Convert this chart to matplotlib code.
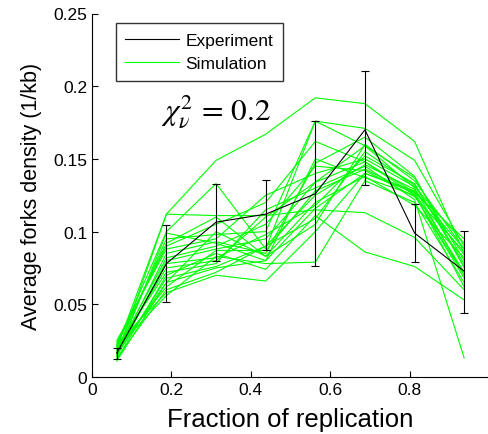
import numpy as np
import matplotlib
matplotlib.use("Agg")
import matplotlib.pyplot as plt

plt.rcParams['font.family'] = ['Liberation Sans', 'DejaVu Sans']
plt.rcParams['mathtext.fontset'] = 'stix'

# Bin centres (fraction of replication)
x = [0.0625, 0.1875, 0.3125, 0.4375, 0.5625, 0.6875, 0.8125, 0.9375]

# Experiment
exp_y = [0.0165, 0.078, 0.1065, 0.112, 0.126, 0.170, 0.099, 0.0728]
exp_lo = [0.0124, 0.0514, 0.0799, 0.0875, 0.0762, 0.1318, 0.079, 0.0441]
exp_hi = [0.0198, 0.1045, 0.1327, 0.1355, 0.1758, 0.2105, 0.1187, 0.1006]

# Simulations
sim = [
    [0.020, 0.112, 0.149, 0.167, 0.192, 0.188, 0.162, 0.085],
    [0.015, 0.112, 0.111, 0.111, 0.115, 0.113, 0.096, 0.060],
    [0.012, 0.070, 0.085, 0.074, 0.111, 0.086, 0.076, 0.053],
    [0.022, 0.100, 0.133, 0.088, 0.176, 0.171, 0.149, 0.090],
    [0.018, 0.095, 0.098, 0.100, 0.176, 0.159, 0.137, 0.080],
    [0.024, 0.090, 0.105, 0.120, 0.162, 0.148, 0.127, 0.095],
    [0.016, 0.085, 0.093, 0.085, 0.147, 0.165, 0.138, 0.075],
    [0.014, 0.080, 0.088, 0.095, 0.134, 0.159, 0.130, 0.070],
    [0.019, 0.075, 0.080, 0.110, 0.134, 0.148, 0.125, 0.068],
    [0.021, 0.072, 0.078, 0.115, 0.130, 0.145, 0.122, 0.013],
    [0.017, 0.065, 0.075, 0.080, 0.116, 0.140, 0.128, 0.088],
    [0.013, 0.060, 0.072, 0.090, 0.109, 0.155, 0.132, 0.078],
    [0.023, 0.058, 0.070, 0.066, 0.100, 0.140, 0.127, 0.072],
    [0.020, 0.056, 0.083, 0.078, 0.079, 0.135, 0.120, 0.065],
    [0.011, 0.065, 0.100, 0.083, 0.120, 0.138, 0.118, 0.082],
    [0.025, 0.088, 0.095, 0.125, 0.140, 0.150, 0.131, 0.092],
    [0.018, 0.082, 0.090, 0.105, 0.145, 0.142, 0.124, 0.086],
    [0.015, 0.068, 0.076, 0.090, 0.125, 0.146, 0.129, 0.084],
    [0.022, 0.092, 0.110, 0.083, 0.105, 0.160, 0.135, 0.088],
    [0.016, 0.078, 0.082, 0.098, 0.118, 0.152, 0.133, 0.076],
    [0.020, 0.062, 0.087, 0.087, 0.128, 0.143, 0.126, 0.062],
    [0.014, 0.099, 0.092, 0.080, 0.150, 0.137, 0.125, 0.070],
]

xticks = [0, 0.2, 0.4, 0.6, 0.8]
xticklabels = ['0', '0.2', '0.4', '0.6', '0.8']
yticks = [0, 0.05, 0.1, 0.15, 0.2, 0.25]
yticklabels = ['0', '0.05', '0.1', '0.15', '0.2', '0.25']

fig = plt.figure(figsize=(4.89, 4.35), dpi=100)
ax = fig.add_axes([92/489, 57/435, 1 - 92/489, (378 - 14.5)/435])

green = '#00ff00'
for i, s in enumerate(sim):
    ax.plot(x, s, color=green, lw=0.8, label='Simulation' if i == 0 else None, zorder=2)

exp_y_a = np.array(exp_y)
yerr = [exp_y_a - np.array(exp_lo), np.array(exp_hi) - exp_y_a]
ax.errorbar(x, exp_y, yerr=yerr, color='black', lw=0.8, elinewidth=0.8,
            capsize=3, capthick=0.8, zorder=3)
ax.plot([], [], color='black', lw=0.8, label='Experiment')

h, l = ax.get_legend_handles_labels()
order = [l.index('Experiment'), l.index('Simulation')]
leg = ax.legend([h[i] for i in order], [l[i] for i in order],
                loc='upper left', bbox_to_anchor=(0.06, 0.974), borderaxespad=0,
                fontsize=12.5, frameon=True, fancybox=False, edgecolor='black',
                handlelength=3.1, handletextpad=0.35, borderpad=0.55,
                labelspacing=0.5)
leg.get_frame().set_linewidth(1.0)

ax.text(0.175, 0.178, r'$\chi_\nu^2\,=\,0.2$', fontsize=22.5, transform=ax.transData)

ax.set_xlim(0, 1)
ax.set_ylim(0, 0.25)
ax.set_xticks(xticks)
ax.set_xticklabels(xticklabels)
ax.set_yticks(yticks)
ax.set_yticklabels(yticklabels)
ax.tick_params(direction='in', length=4, labelsize=12.5, width=0.8)
ax.spines['top'].set_visible(False)
ax.spines['right'].set_visible(False)
for sp in ['left', 'bottom']:
    ax.spines[sp].set_linewidth(0.8)

ax.set_xlabel('Fraction of replication', fontsize=18.5, labelpad=7)
ax.set_ylabel('Average forks density (1/kb)', fontsize=15.5, labelpad=8)

fig.savefig('out.png', dpi=100)
